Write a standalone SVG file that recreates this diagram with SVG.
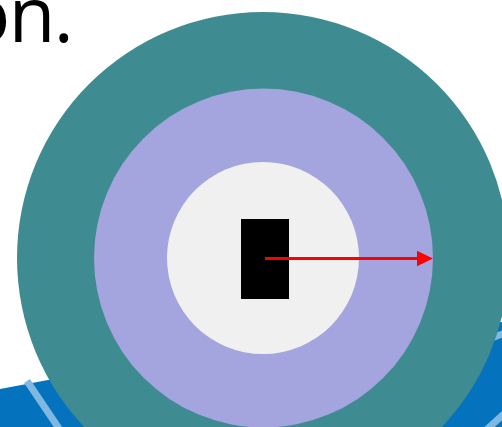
<svg xmlns="http://www.w3.org/2000/svg" width="502" height="427" viewBox="0 0 502 427">
<style>
.txt{font-family:"Open Sans","Noto Sans",sans-serif;font-size:76px;fill:#000;letter-spacing:-1.5px}
.stripe{stroke:#7FB8E0;stroke-width:7;fill:none}
.ring-outer{fill:#3E8C91}
.ring-mid{fill:#A4A4DE}
.ring-inner{fill:#F0F0F0}
.conn{stroke:#FF0000;stroke-width:3;fill:none}
</style>
<defs>
<marker id="arrow" markerUnits="userSpaceOnUse" markerWidth="16" markerHeight="16" refX="3" refY="8" orient="auto">
<path d="M0,0.25 L16,8 L0,15.75 Z" fill="#FF0000"/>
</marker>
</defs>
<g id="ground">
<path d="M0,389 Q250,340 502,322 L502,427 L0,427 Z" fill="#0472BD"/>
<line class="stripe" x1="27" y1="381" x2="60" y2="430"/>
<line class="stripe" x1="470" y1="346" x2="505" y2="333"/>
<line class="stripe" x1="484" y1="432" x2="506" y2="412"/>
</g>
<g id="caption">
<text class="txt" x="-35.5" y="42">on.</text>
</g>
<g id="outer-ring"><circle class="ring-outer" cx="263" cy="258" r="246"/></g>
<g id="middle-ring"><circle class="ring-mid" cx="263.5" cy="258" r="169.5"/></g>
<g id="inner-ring"><circle class="ring-inner" cx="263" cy="258" r="96"/></g>
<g id="core"><rect x="241" y="219" width="48" height="80" fill="#000"/></g>
<g id="connectors">
<line class="conn" x1="265" y1="258.5" x2="420" y2="258.5" marker-end="url(#arrow)"/>
</g>
</svg>
